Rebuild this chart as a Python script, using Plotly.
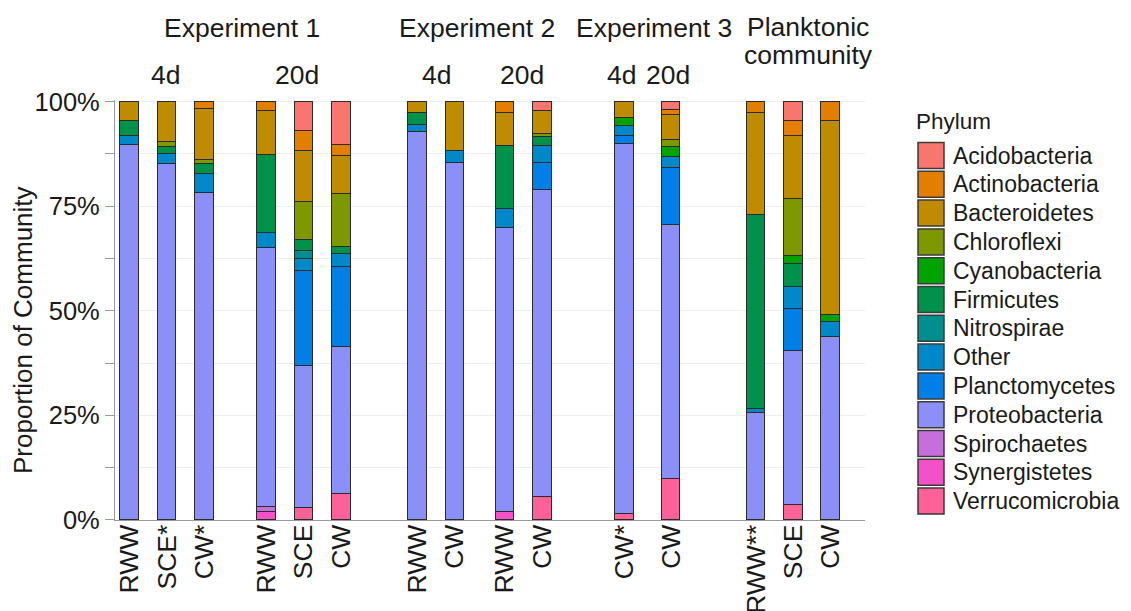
import plotly.graph_objects as go

# the page body adds an 8px margin, so the figure is drawn 8px in from the window corner
OFF = 8
W, H = 1131 - OFF, 611 - OFF

# ---------------- data ----------------
phyla = ["Acidobacteria", "Actinobacteria", "Bacteroidetes", "Chloroflexi", "Cyanobacteria",
         "Firmicutes", "Nitrospirae", "Other", "Planctomycetes", "Proteobacteria",
         "Spirochaetes", "Synergistetes", "Verrucomicrobia"]
colors = ["#F8766D", "#E27F00", "#BF8B00", "#7E9800", "#00A300",
          "#00914A", "#008E8E", "#0088C9", "#0080E6", "#8A90F5",
          "#C66FDC", "#F251C8", "#FD6198"]

experiments = ["Experiment 1", "Experiment 2", "Experiment 3"]
timepoints = ["4d", "20d", "4d", "20d", "4d", "20d"]
panel_samples = [["RWW", "SCE*", "CW*"], ["RWW", "SCE", "CW"], ["RWW", "CW"], ["RWW", "CW"],
                 ["CW*"], ["CW"], ["RWW**", "SCE", "CW"]]

# % of community, one value per bar (15 bars, panel order)
acidobacteria   = [0, 0, 0,      0, 6.9, 10.2,   0, 0,    0, 2.2,    0, 2.0,    0, 4.4, 0]
actinobacteria  = [0, 0, 1.6,    2.2, 4.9, 2.8,  0, 0,    2.5, 0,    0, 1.2,    2.5, 3.6, 4.4]
bacteroidetes   = [4.4, 9.6, 12.2, 10.4, 12.1, 8.9, 2.5, 11.8, 8.0, 5.4, 3.8, 5.8, 24.6, 15.1, 46.6]
chloroflexi     = [0, 1.2, 1.1,  0, 9.0, 12.8,   0, 0,    0, 0.8,    0, 1.8,    0, 13.8, 0]
cyanobacteria   = [0, 0, 0,      0, 0, 0,        0, 0,    0, 0,      1.9, 2.3,  0, 1.7, 1.6]
firmicutes      = [3.6, 1.6, 2.2, 18.7, 2.7, 1.6, 2.9, 0, 15.0, 2.0, 0, 0,      46.2, 5.5, 0]
nitrospirae     = [0, 0, 0,      0, 2.0, 0,      0, 0,    0, 0,      0, 0,      0, 0, 0]
other           = [2.2, 2.3, 4.7, 3.5, 2.8, 3.1, 1.8, 2.8, 4.5, 4.1, 2.3, 2.6, 1.0, 5.3, 3.6]
planctomycetes  = [0, 0, 0,      0, 22.7, 19.2,  0, 0,    0, 6.6,    2.1, 13.6, 0, 10.1, 0]
proteobacteria  = [89.8, 85.3, 78.2, 62.0, 34.0, 35.2, 92.8, 85.4, 68.0, 73.2, 88.3, 60.7, 25.7, 36.8, 43.8]
spirochaetes    = [0, 0, 0,      1.3, 0, 0,      0, 0,    0, 0,      0, 0,      0, 0, 0]
synergistetes   = [0, 0, 0,      1.9, 0, 0,      0, 0,    2.0, 0,    0, 0,      0, 0, 0]
verrucomicrobia = [0, 0, 0,      0, 2.9, 6.2,    0, 0,    0, 5.7,    1.6, 10.0, 0, 3.7, 0]

values = [acidobacteria, actinobacteria, bacteroidetes, chloroflexi, cyanobacteria, firmicutes,
          nitrospirae, other, planctomycetes, proteobacteria, spirochaetes, synergistetes,
          verrucomicrobia]

y_ticks = [0, 0.25, 0.5, 0.75, 1.0]
y_ticklabels = ["0%", "25%", "50%", "75%", "100%"]

# ---------------- layout geometry (window pixels) ----------------
def px(x):
    return (x - OFF) / W

def py(y):
    return 1 - (y - OFF) / H

unit = 37.4                   # px per category
first_centre = [129.5, 266.5, 417.5, 504.5, 624.7, 671, 756]
bounds = [115, 235, 379, 479.5, 583, 648, 713, 865]
y0_px, y100_px = 520, 101.7
ytop = 1.005
ytop_px = y0_px - ytop * (y0_px - y100_px)

FONT = "Liberation Sans, Arial, sans-serif"
TXT = "#1a1a1a"
AX = "#9a9a9a"
GRID = "#eeeeee"

fig = go.Figure()

# bars
start = 0
for p, samples in enumerate(panel_samples):
    n = len(samples)
    xa = "x" if p == 0 else f"x{p + 1}"
    for k in reversed(range(len(phyla))):
        vals = [v / 100 if v else None for v in values[k][start:start + n]]
        fig.add_trace(go.Bar(
            x=samples, y=vals, xaxis=xa, yaxis="y",
            marker=dict(color=colors[k], line=dict(color="#2b2b2b", width=1)),
            width=0.5, name=phyla[k], showlegend=False,
            hovertemplate=phyla[k] + ": %{y:.1%}<extra></extra>"))
    L, R = bounds[p], bounds[p + 1]
    c0 = first_centre[p]
    key = "xaxis" if p == 0 else f"xaxis{p + 1}"
    fig.layout[key] = dict(
        domain=[px(L), px(R)], anchor="y", type="category",
        categoryorder="array", categoryarray=samples,
        range=[(L - c0) / unit, (R - c0) / unit],
        showline=True, linecolor=AX, linewidth=1.2, ticks="",
        tickangle=-90, ticklabelstandoff=-7, automargin=False,
        tickfont=dict(family=FONT, size=26.5, color=TXT),
        showgrid=False, zeroline=False, fixedrange=True)
    start += n

fig.update_layout(yaxis=dict(
    domain=[py(y0_px), py(ytop_px)], anchor="x", range=[0, ytop], automargin=False,
    tickvals=y_ticks, ticktext=y_ticklabels,
    tickfont=dict(family=FONT, size=25.5, color=TXT),
    showline=True, linecolor=AX, linewidth=1.2,
    ticks="outside", ticklen=9, tickcolor=AX, tickwidth=1.2,
    showgrid=True, gridcolor=GRID, gridwidth=1, zeroline=False,
    minor=dict(tickvals=[0.125, 0.375, 0.625, 0.875], ticks="outside", ticklen=9,
               tickcolor=AX, tickwidth=1.2, showgrid=True, gridcolor=GRID),
    fixedrange=True))

# legend keys drawn as a scatter on their own axes
key_top, key_step = 155.5, 28.8
leg_top = key_top - key_step / 2
leg_bot = key_top + key_step * (len(phyla) - 1) + key_step / 2
fig.add_trace(go.Scatter(
    x=[0] * len(phyla), y=list(range(len(phyla))), xaxis="x8", yaxis="y2",
    mode="markers",
    marker=dict(symbol="square", size=26, color=colors, line=dict(color="#3a3a3a", width=1.5)),
    cliponaxis=False, showlegend=False, hoverinfo="skip"))
fig.update_layout(
    xaxis8=dict(domain=[px(931), 1], range=[0, 1], visible=False, fixedrange=True,
                automargin=False),
    yaxis2=dict(domain=[py(leg_bot), py(leg_top)], range=[len(phyla) - 0.5, -0.5],
                anchor="x8", visible=False, fixedrange=True, automargin=False))

annotations = []
# legend labels
for i, name in enumerate(phyla):
    annotations.append(dict(text=name, x=px(951), y=i, xref="paper", yref="y2",
                            xanchor="left", yanchor="middle", showarrow=False,
                            font=dict(family=FONT, size=23, color=TXT)))
# legend title
annotations.append(dict(text="Phylum", x=px(914), y=py(121), xref="paper", yref="paper",
                        xanchor="left", yanchor="middle", showarrow=False,
                        font=dict(family=FONT, size=22.5, color=TXT)))
# y axis title
annotations.append(dict(text="Proportion of Community", x=px(23), y=py(330), xref="paper",
                        yref="paper", textangle=-90, showarrow=False,
                        xanchor="center", yanchor="middle",
                        font=dict(family=FONT, size=26, color=TXT)))
# strip labels
strip_texts = ["Experiment 1", "Experiment 2", "Experiment 3", "Planktonic", "community"]
strip_x = [242, 477, 654, 808, 808]
strip_y = [28, 28, 28, 27, 55]
for t, cx, cy in zip(strip_texts, strip_x, strip_y):
    annotations.append(dict(text=t, x=px(cx), y=py(cy), xref="paper", yref="paper",
                            xanchor="center", yanchor="middle", showarrow=False,
                            font=dict(family=FONT, size=26.5, color=TXT)))
tp_centres = [165, 297, 436, 522, 621, 668]
for t, cx in zip(timepoints, tp_centres):
    annotations.append(dict(text=t, x=px(cx), y=py(75), xref="paper", yref="paper",
                            xanchor="center", yanchor="middle", showarrow=False,
                            font=dict(family=FONT, size=26.5, color=TXT)))

fig.update_layout(
    width=W, height=H, margin=dict(l=0, r=0, t=0, b=0, autoexpand=False),
    barmode="stack", bargap=0, paper_bgcolor="white", plot_bgcolor="white",
    annotations=annotations, showlegend=False,
    font=dict(family=FONT, color=TXT))

fig.write_html("out.html")
